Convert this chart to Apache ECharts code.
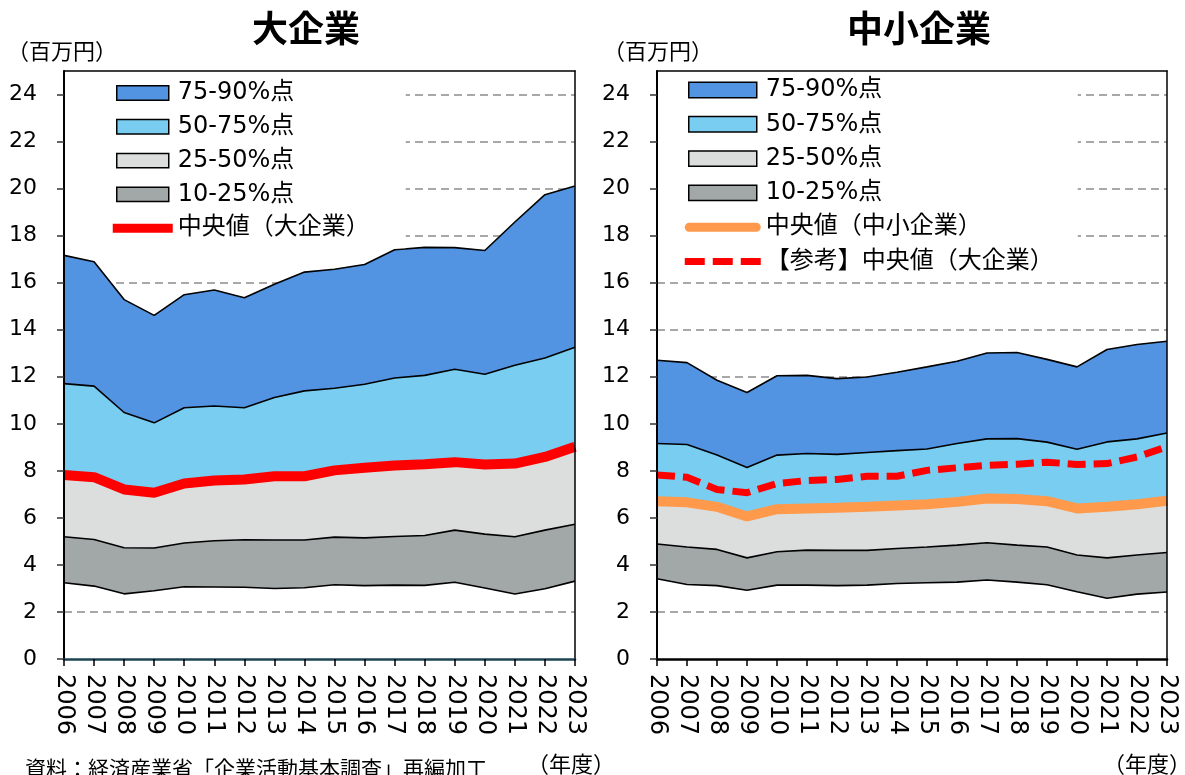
<!DOCTYPE html>
<html><head><meta charset="utf-8">
<script src="https://cdn.jsdelivr.net/npm/echarts@6/dist/echarts.min.js"></script>
<style>html,body{margin:0;padding:0;background:#fff}#c{width:1185px;height:775px}</style>
</head><body><div id="c"></div>
<script>
// ---- data ----
const years = ['2006','2007','2008','2009','2010','2011','2012','2013','2014','2015','2016','2017','2018','2019','2020','2021','2022','2023'];
const yTickValues = [0,2,4,6,8,10,12,14,16,18,20,22,24];

// 大企業 (百万円)
const largeP10 = [3.24,3.10,2.77,2.90,3.07,3.06,3.05,3.00,3.03,3.16,3.12,3.14,3.13,3.26,3.02,2.76,2.99,3.31];
const largeP25 = [5.20,5.08,4.73,4.72,4.93,5.03,5.07,5.06,5.06,5.18,5.15,5.21,5.25,5.48,5.31,5.20,5.48,5.73];
const largeP50 = [7.82,7.73,7.21,7.07,7.46,7.59,7.63,7.77,7.77,8.02,8.13,8.23,8.28,8.37,8.27,8.31,8.59,9.02];
const largeP75 = [11.71,11.60,10.48,10.04,10.68,10.76,10.68,11.12,11.40,11.51,11.68,11.95,12.06,12.32,12.11,12.49,12.80,13.25];
const largeP90 = [17.16,16.89,15.28,14.61,15.49,15.69,15.36,15.93,16.45,16.57,16.77,17.40,17.50,17.49,17.37,18.58,19.74,20.11];

// 中小企業 (百万円)
const smeP10 = [3.41,3.17,3.12,2.92,3.14,3.14,3.12,3.14,3.21,3.24,3.27,3.36,3.27,3.16,2.86,2.58,2.76,2.85];
const smeP25 = [4.89,4.76,4.66,4.30,4.56,4.63,4.62,4.62,4.70,4.76,4.84,4.94,4.84,4.76,4.42,4.30,4.42,4.53];
const smeP50 = [6.71,6.66,6.47,6.06,6.37,6.40,6.43,6.47,6.53,6.58,6.68,6.82,6.80,6.71,6.40,6.47,6.58,6.73];
const smeP75 = [9.16,9.12,8.67,8.14,8.67,8.74,8.70,8.78,8.86,8.93,9.16,9.36,9.37,9.22,8.92,9.23,9.36,9.61];
const smeP90 = [12.70,12.60,11.85,11.33,12.04,12.06,11.92,11.99,12.19,12.42,12.66,13.01,13.03,12.74,12.42,13.16,13.37,13.51];

const bandNames = ['10-25%点','25-50%点','50-75%点','75-90%点'];
const bandColors = ['#A2A7A7','#DCDDDD','#78CDF0','#5294E2'];

// ---- helpers ----
const FONT = "'DejaVu Sans', 'Noto Sans CJK JP', sans-serif";
const diff = (a, b) => a.map((v, i) => +(v - b[i]).toFixed(3));

function bandSeries(gi, pct, stackId) {
  const out = [];
  out.push({ name: 'base' + gi, type: 'line', xAxisIndex: gi, yAxisIndex: gi, stack: stackId,
    data: pct[0], symbol: 'none', lineStyle: { width: 0, opacity: 0 }, silent: true, z: 2 });
  for (let k = 0; k < 4; k++) {
    out.push({ name: bandNames[k], type: 'line', xAxisIndex: gi, yAxisIndex: gi, stack: stackId,
      data: diff(pct[k + 1], pct[k]), symbol: 'none',
      lineStyle: { width: 0, opacity: 0 },
      itemStyle: { color: bandColors[k] },
      areaStyle: { color: bandColors[k], opacity: 1 }, silent: true, z: 2 });
  }
  [0, 1, 3, 4].forEach(k => {
    out.push({ name: 'edge' + gi + '_' + k, type: 'line', xAxisIndex: gi, yAxisIndex: gi,
      data: pct[k], symbol: 'none', lineStyle: { color: '#000', width: 1.6 }, silent: true, z: 3 });
  });
  return out;
}

const rectIcon = (w, h, inset) => `path://M0,0M${w},${h}M${inset},0.8L${w - inset},0.8L${w - inset},${h - 0.8}L${inset},${h - 0.8}Z`;

function xAxisMain(gi, lineColor) {
  return { type: 'category', gridIndex: gi, data: years, boundaryGap: false, position: 'bottom', z: 11,
    axisLine: { onZero: false, lineStyle: { color: lineColor, width: 2.5 } },
    axisTick: { show: true, inside: false, length: 7, interval: 0, lineStyle: { color: '#000', width: 1.5 } },
    axisLabel: { interval: 0, rotate: -90, margin: 15, fontSize: 24, color: '#000', fontFamily: FONT },
    splitLine: { show: false } };
}
function xAxisTop(gi) {
  return { type: 'category', gridIndex: gi, data: years, boundaryGap: false, position: 'top', z: 11,
    axisLine: { show: true, onZero: false, lineStyle: { color: '#000', width: 1.5 } },
    axisTick: { show: false }, axisLabel: { show: false }, splitLine: { show: false } };
}
function yAxisGrid(gi) {
  return { type: 'value', gridIndex: gi, min: 0, max: 25, interval: 2, position: 'left', z: 0,
    axisLine: { show: false }, axisTick: { show: false }, axisLabel: { show: false },
    splitLine: { show: true, showMaxLine: false, showMinLine: false,
      lineStyle: { color: '#8c8c8c', type: [8, 5], width: 1.5 } } };
}
function yAxisLeft(gi) {
  return { type: 'value', gridIndex: gi, min: 0, max: 25, interval: 2, position: 'left', z: 11,
    axisLine: { show: true, onZero: false, lineStyle: { color: '#000', width: 2 } },
    axisTick: { show: true, inside: false, length: 7, customValues: yTickValues, lineStyle: { color: '#333', width: 1.5 } },
    axisLabel: { customValues: yTickValues, margin: 27, fontSize: 22, color: '#000', fontFamily: FONT },
    splitLine: { show: false } };
}
function yAxisRight(gi) {
  return { type: 'value', gridIndex: gi, min: 0, max: 25, interval: 2, position: 'right', z: 11,
    axisLine: { show: true, onZero: false, lineStyle: { color: '#000', width: 1.5 } },
    axisTick: { show: false }, axisLabel: { show: false }, splitLine: { show: false } };
}

const legendText = { fontSize: 24, color: '#000', fontFamily: FONT };

const option = {
  animation: false,
  backgroundColor: '#fff',
  title: [
    { text: '大企業', left: 301, top: 5, textAlign: 'center',
      textStyle: { fontSize: 36, fontWeight: 'bold', color: '#000', fontFamily: "'Noto Sans CJK JP', sans-serif" } },
    { text: '中小企業', left: 914, top: 5, textAlign: 'center',
      textStyle: { fontSize: 36, fontWeight: 'bold', color: '#000', fontFamily: "'Noto Sans CJK JP', sans-serif" } },
    { text: '（百万円）', left: 2, top: 37, textStyle: { fontSize: 22, fontWeight: 'normal', color: '#000', fontFamily: FONT } },
    { text: '（百万円）', left: 598, top: 37, textStyle: { fontSize: 22, fontWeight: 'normal', color: '#000', fontFamily: FONT } },
    { text: '（年度）', left: 522, top: 750, textStyle: { fontSize: 22, fontWeight: 'normal', color: '#000', fontFamily: FONT } },
    { text: '（年度）', left: 1098, top: 750, textStyle: { fontSize: 22, fontWeight: 'normal', color: '#000', fontFamily: FONT } },
    { text: '資料：経済産業省「企業活動基本調査」再編加工', left: 20, top: 755,
      textStyle: { fontSize: 21, fontWeight: 'normal', color: '#000', fontFamily: FONT } }
  ],
  grid: [
    { left: 64, top: 71, width: 511, height: 588, show: false },
    { left: 657, top: 71, width: 510, height: 588, show: false }
  ],
  xAxis: [ xAxisMain(0, '#1d4556'), xAxisMain(1, '#000'), xAxisTop(0), xAxisTop(1) ],
  yAxis: [ yAxisGrid(0), yAxisGrid(1), yAxisLeft(0), yAxisLeft(1), yAxisRight(0), yAxisRight(1) ],
  legend: [
    { orient: 'vertical', left: 64, top: 72, z: 10, selectedMode: false,
      padding: [9, 36, 8, 48], itemGap: 9.8, itemWidth: 60, itemHeight: 16,
      backgroundColor: '#fff', textStyle: legendText,
      data: [
        { name: '75-90%点', icon: rectIcon(60, 16, 4), itemStyle: { color: bandColors[3], borderColor: '#000', borderWidth: 1.5, opacity: 1 } },
        { name: '50-75%点', icon: rectIcon(60, 16, 4), itemStyle: { color: bandColors[2], borderColor: '#000', borderWidth: 1.5, opacity: 1 } },
        { name: '25-50%点', icon: rectIcon(60, 16, 4), itemStyle: { color: bandColors[1], borderColor: '#000', borderWidth: 1.5, opacity: 1 } },
        { name: '10-25%点', icon: rectIcon(60, 16, 4), itemStyle: { color: bandColors[0], borderColor: '#000', borderWidth: 1.5, opacity: 1 } },
        { name: '中央値（大企業）', icon: 'path://M0,0M60,16M0,3.5L60,3.5L60,12.5L0,12.5Z',
          itemStyle: { color: '#FF0000', borderWidth: 0, opacity: 1 } }
      ] },
    { orient: 'vertical', left: 657, top: 72, z: 10, selectedMode: false,
      padding: [6, 24, 4, 27], itemGap: 10.3, itemWidth: 76, itemHeight: 17,
      backgroundColor: '#fff', textStyle: legendText,
      data: [
        { name: '75-90%点', icon: rectIcon(76, 17, 4), itemStyle: { color: bandColors[3], borderColor: '#000', borderWidth: 1.5, opacity: 1 } },
        { name: '50-75%点', icon: rectIcon(76, 17, 4), itemStyle: { color: bandColors[2], borderColor: '#000', borderWidth: 1.5, opacity: 1 } },
        { name: '25-50%点', icon: rectIcon(76, 17, 4), itemStyle: { color: bandColors[1], borderColor: '#000', borderWidth: 1.5, opacity: 1 } },
        { name: '10-25%点', icon: rectIcon(76, 17, 4), itemStyle: { color: bandColors[0], borderColor: '#000', borderWidth: 1.5, opacity: 1 } },
        { name: '中央値（中小企業）', icon: 'path://M0,0M76,17M4.5,4L71.5,4A4.5,4.5 0 0 1 71.5,13L4.5,13A4.5,4.5 0 0 1 4.5,4Z',
          itemStyle: { color: '#FF9A4C', borderWidth: 0, opacity: 1 } },
        { name: '【参考】中央値（大企業）', icon: 'path://M0,0M76,17M0,5L20,5L20,12L0,12ZM28,5L48,5L48,12L28,12ZM56,5L76,5L76,12L56,12Z',
          itemStyle: { color: '#FF0000', borderWidth: 0, opacity: 1 } }
      ] }
  ],
  series: [
    ...bandSeries(0, [largeP10, largeP25, largeP50, largeP75, largeP90], 'L'),
    { name: '中央値（大企業）', type: 'line', xAxisIndex: 0, yAxisIndex: 0, data: largeP50, symbol: 'none',
      itemStyle: { color: '#FF0000' }, lineStyle: { color: '#FF0000', width: 10 }, silent: true, z: 5 },
    ...bandSeries(1, [smeP10, smeP25, smeP50, smeP75, smeP90], 'S'),
    { name: '中央値（中小企業）', type: 'line', xAxisIndex: 1, yAxisIndex: 1, data: smeP50, symbol: 'none',
      itemStyle: { color: '#FF9A4C' }, lineStyle: { color: '#FF9A4C', width: 10, cap: 'butt' }, silent: true, z: 5 },
    { name: '【参考】中央値（大企業）', type: 'line', xAxisIndex: 1, yAxisIndex: 1, data: largeP50, symbol: 'none',
      itemStyle: { color: '#FF0000' }, lineStyle: { color: '#FF0000', width: 7, type: [18, 8] }, silent: true, z: 6 }
  ]
};

const chart = echarts.init(document.getElementById('c'), null, { renderer: 'canvas' });
chart.setOption(option);
</script>
</body></html>
